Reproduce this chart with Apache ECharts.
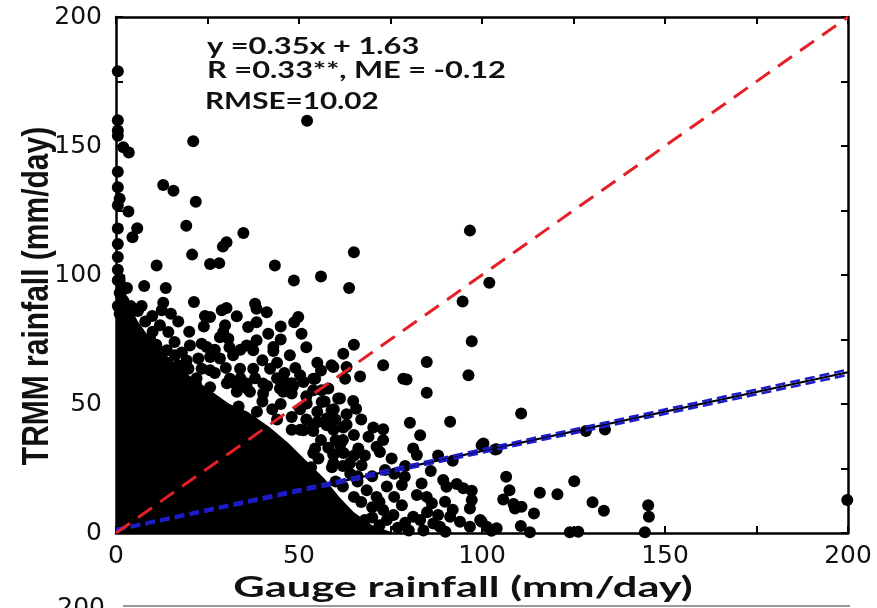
<!DOCTYPE html>
<html>
<head>
<meta charset="utf-8">
<script src="https://cdn.jsdelivr.net/npm/echarts@6/dist/echarts.min.js"></script>
<style>html,body{margin:0;padding:0;background:#fff;}#c{width:877px;height:608px;}</style>
</head>
<body>
<div id="c"></div>
<script>
// ---- data ----
const tickLabels = ['0', '50', '100', '150', '200'];
const axisMin = 0, axisMax = 200;
// dense solid region of overlapping gauge/TRMM points (outline, mm/day)
const denseOutline = [[0,0],[0,102],[2.5,100],[3,90],[6,82],[9,76],[12,71],[16,66],[20,61],[26,55],[31,50],[36,47],[42,41],[47,35],[52,28],[57,21],[61,14],[65,8],[70,3],[76,0]];
// individual points [gauge, TRMM]
const pointsUpper = [[0.5,179],[0.5,160],[0.5,156],[0.5,154],[2,149.5],[3.5,147.5],[0.5,140],[0.5,134],[1,129.6],[0.5,127],[3.4,124.6],[0.5,118],[0.5,112],[0.5,107],[0.5,102],[0.5,98],[1,93],[0.5,88],[1,85],
  [52.2,159.8],[21.1,151.8],[12.9,134.9],[15.7,132.7],[21.8,128.4],[5.8,118.1],[4.5,114.6],[19.2,119.1],[34.8,116.3],[30.2,112.7],[29.2,111],[20.8,107.9],[11.1,103.7],[25.7,104.3],[28.2,104.6],[43.4,103.7],[48.6,97.9],[56,99.4],[7.7,95.7],[13.6,95],[63.7,95],[65,108.8],[96.7,117.2],[102,97],[94.7,89.7],[97.2,74.3],[65,73]];
const pointsMiddle = [[21.3,89.5],[12.9,89.2],[12.5,86.3],[9.9,84.1],[3.4,81.1],[12,80.5],[14.3,77.9],[24.3,84.1],[25.7,83.7],[28.9,86.3],[30.2,87.2],[38,88.9],[38.4,86.9],[41.2,85.6],[48.7,81.7],[49.8,83.7],[50.7,77.2],[29.8,80.5],[29.3,77.9],[28.4,75.9],[30.7,75.3],[36.1,79.8],[38.4,81.7],[41.6,77.2],[38.4,74.7],[43,72.1],[43,70.5],[35.7,72.7],[37.5,70.8],[47.5,68.9],[20.2,72.7],[23.4,73.4],[24.8,72.1],[3.8,75.9],[6.6,74.7],[9.3,75.3],[5.2,68.2],[7.5,66.9],[12.5,70.1],[13.9,70.8],[16.1,68.9],[19.3,66.9],[22.5,67.6],[25.7,68.2],[28.4,67.6],[32,68.9],[33.9,63.7],[37.5,63.7],[42.1,63.7],[23.4,63.7],[25.7,63.1],[19.8,63.7],[15.2,63.7],[31.1,59.8],[35.7,57.9],[40.2,57.9],[50.3,61.1],[53.9,59.8],[59.4,64.3],[62.1,69.5],[62.6,59.8],[33,54.7],[36.6,54.7],[40.2,54.1],[45.7,54.7],[48,54.1],[53.9,55.3],[56.2,55.3],[61.2,52.1],[52.1,50.2],
  [18.3,57],[21.9,57.5],[25.7,56.5],[30.3,58],[33,57],[35.8,56],[41.3,57],[44.8,56],[46.7,58],[48.4,57],[27.3,50],[30.1,48],[33.5,49],[38.5,47],[42.7,48],[50.3,48],[55,47],[59.5,48],[50.3,40],[53.9,39.5],[59.4,40],[46.7,32],[53.9,31],[59.4,30.5],[62.2,31],[53.3,25.5],[59,25.5],
  [2,90],[4,88],[6,86],[3,95],[8,82],[10,78],[6,78],[16,74],[18,70],[10,68],[17,65],[44,44],[48,40],[45,50],[40,51],[56,36],[58,33],
  [5,72],[8,70],[11,73],[14,66],[18,62],[22,60],[27,62],[30,64],[34,60],[38,60],[44,60],[46,62],[20,78],[24,80],[17,82],[7,88],[15,85],[33,84],[45,80],[45,75],[52,72],[55,66],[49,64],[56,63],[34,71],[27,71],[31,72],[40,67],[44,66],[48,58],[52,53],[58,56],[57,51],[48,45],[52,44],[55,43]];
const pointsLower = [[84.9,66.3],[73,65],[58.9,65],[63,64.3],[66.7,60.7],[54.4,59.8],[51.2,58.5],[78.5,59.8],[79.4,59.5],[96.3,61.1],[84.9,54.4],[60.7,52.1],[64.8,51.2],[65.6,48.2],[56.2,50.8],[58.9,47.6],[53.9,41.8],[51.2,39.8],[57.6,44.4],[57.6,41.8],[62.1,40.9],[80.3,42.7],[91.3,43.1],[70.3,40.9],[73,40.2],[69,37.3],[73,36],[83.1,37.9],[61.2,34],[66.2,32.8],[54.4,32.8],[55.3,28.9],[71.2,33.4],[72.1,31.4],[75.3,28.9],[81.2,32.8],[82.2,30.2],[59.4,30.2],[59.4,27],[63.9,27],[67.1,26.3],[99.9,34],[104,32.5],[73.5,24.4],[78.9,21.8],[83.5,19.2],[89.4,20.5],[90.3,17.9],[93.1,19],[94.9,17.3],[97.2,16.4],[78.1,18.6],[68.5,16.6],[71.2,14],[82.2,14.7],[84.9,14],[86.3,11.5],[89.9,12.1],[97.2,12.8],[96.7,9.5],[78.1,10.8],[73,8.9],[75.8,7],[81.2,6.3],[83.1,5],[91.3,6.3],[94,4.4],[99.5,5],[86.7,3.7],[88.5,2.4],[101.3,2.4],[104,1.8],[96.7,2.4],
  [62,18],[65,14],[66,20],[70,10],[68,5],[72,3],[77,2],[80,1],[64,23],[70,22],[76,14],[74,18],[79,4],[84,1],[90,0.5],[62,36],[65,38],[67,44],[63,46],
  [60,44],[63,42],[60,36],[65,30],[68,30],[62,26],[66,22],[56,17],[60,20],[67,12],[72,12],[70,6],[74,5],[85,8],[88,7],[92,9],[76,23],[79,26],[86,24],[88,30],[92,28]];
const pointsRight = [[110.7,46.3],[100.4,34.7],[103.6,32.4],[128.4,39.5],[133.6,40.1],[106.6,21.8],[107.5,16.6],[105.8,13],[108.6,11.2],[109,9.5],[110.8,10.2],[115.8,15.6],[120.6,15],[125.2,20.1],[114.2,7.6],[130.2,11.9],[133.3,8.6],[145.4,10.8],[145.6,6.3],[110.6,2.7],[102.6,0.9],[99.9,4.4],[113.1,0.3],[124,0.3],[126.3,0.5],[144.5,0.3],[199.8,12.8]];
// reference and fitted lines [gauge, TRMM]
const oneToOne = [[0,0],[200,200]];
const fitLine = [[0,1.2],[200,62.3]];
const fitUpper = [[0,1.5],[200,63.3]];
const fitLower = [[0,0.9],[200,61.3]];
const annotations = ['y =0.35x + 1.63', 'R =0.33**, ME = -0.12', 'RMSE=10.02'];
const xTitle = 'Gauge rainfall (mm/day)';
const yTitle = 'TRMM rainfall (mm/day)';

const allPoints = pointsUpper.concat(pointsMiddle, pointsLower, pointsRight);
const labelFmt = v => (tickLabels.indexOf(String(v)) >= 0 ? String(v) : '');
const tickFont = { fontFamily: 'DejaVu Sans', fontSize: 25, color: '#111' };

const chart = echarts.init(document.getElementById('c'), null, { renderer: 'canvas' });
const axisCommon = {
  type: 'value', min: axisMin, max: axisMax, interval: 25,
  splitLine: { show: false },
  axisLine: { show: true, onZero: false, lineStyle: { color: '#000', width: 2.5 } },
  axisTick: { show: true, inside: true, length: 7, lineStyle: { color: '#000', width: 2 } }
};
chart.setOption({
  animation: false,
  grid: { left: 116, right: 29, top: 17, bottom: 75 },
  xAxis: [
    Object.assign({}, axisCommon, { position: 'bottom', axisLabel: Object.assign({ margin: 11, formatter: labelFmt, showMinLabel: true, showMaxLabel: true }, tickFont) }),
    Object.assign({}, axisCommon, { position: 'top', axisLabel: { show: false } })
  ],
  yAxis: [
    Object.assign({}, axisCommon, { position: 'left', axisLabel: Object.assign({ margin: 14, formatter: labelFmt }, tickFont) }),
    Object.assign({}, axisCommon, { position: 'right', axisLabel: { show: false } })
  ],
  series: [
    {
      type: 'custom', xAxisIndex: 0, yAxisIndex: 0, data: [0], z: 1,
      renderItem: function (params, api) {
        return { type: 'polygon', shape: { points: denseOutline.map(p => api.coord(p)) }, style: { fill: '#000' } };
      }
    },
    { type: 'scatter', data: allPoints, symbol: 'circle', symbolSize: 12, itemStyle: { color: '#000', opacity: 1 }, z: 2 },
    { type: 'line', data: fitLine, symbol: 'none', lineStyle: { color: '#000', width: 2.2 }, z: 3 },
    { type: 'line', data: fitUpper, symbol: 'none', lineStyle: { color: '#1c1cc8', width: 2.6, type: [10, 5] }, z: 4 },
    { type: 'line', data: fitLower, symbol: 'none', lineStyle: { color: '#1c1cc8', width: 2.6, type: [10, 5] }, z: 4 },
    { type: 'line', data: oneToOne, symbol: 'none', lineStyle: { color: '#e41f26', width: 3, type: [17, 10] }, z: 5 }
  ],
  graphic: [
    { type: 'text', x: 207, y: 47, scaleX: 1.4, style: { text: annotations[0], font: 'bold 22px Lato', fill: '#111', textAlign: 'left', textVerticalAlign: 'middle' }, z: 10 },
    { type: 'text', x: 207, y: 71, scaleX: 1.4, style: { text: annotations[1], font: 'bold 22px Lato', fill: '#111', textAlign: 'left', textVerticalAlign: 'middle' }, z: 10 },
    { type: 'text', x: 205, y: 102, scaleX: 1.35, style: { text: annotations[2], font: 'bold 22px Lato', fill: '#111', textAlign: 'left', textVerticalAlign: 'middle' }, z: 10 },
    { type: 'text', x: 463, y: 588, scaleX: 1.55, style: { text: xTitle, font: 'bold 28px Lato', fill: '#111', textAlign: 'center', textVerticalAlign: 'middle' }, z: 10 },
    { type: 'text', x: 38, y: 296, rotation: Math.PI / 2, scaleY: 1.2, style: { text: yTitle, font: 'bold 30px "Liberation Sans"', fill: '#111', textAlign: 'center', textVerticalAlign: 'middle' }, z: 10 },
    { type: 'text', x: 105, y: 608, style: { text: tickLabels[4], font: '25px "DejaVu Sans"', fill: '#111', textAlign: 'right', textVerticalAlign: 'middle' }, z: 10 },
    { type: 'line', shape: { x1: 123, y1: 606, x2: 850, y2: 606 }, style: { stroke: '#777', lineWidth: 1.5 }, z: 10 }
  ]
});
</script>
</body>
</html>
